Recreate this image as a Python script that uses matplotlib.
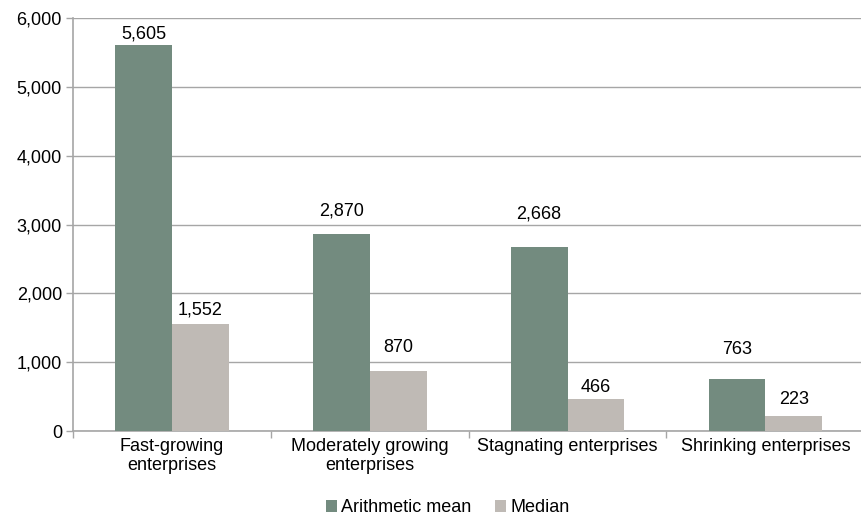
import matplotlib
matplotlib.use("Agg")
import matplotlib.pyplot as plt
import numpy as np

categories = ["Fast-growing\nenterprises", "Moderately growing\nenterprises",
              "Stagnating enterprises", "Shrinking enterprises"]
mean_vals = [5605, 2870, 2668, 763]
median_vals = [1552, 870, 466, 223]
series_names = ["Arithmetic mean", "Median"]
yticks = [0, 1000, 2000, 3000, 4000, 5000, 6000]

# label gaps above bars (pixels), as placed in the original
mean_gap_px = [7, 18, 29, 25]
median_gap_px = [10, 19, 7, 12]

plt.rcParams['font.family'] = ['Liberation Sans', 'DejaVu Sans']
FS = 13

fig = plt.figure(figsize=(8.61, 5.17), dpi=100)
ax = fig.add_axes([0.0848, 0.1663, 0.9190, 0.7987])

x = np.arange(len(categories))
w = 0.287
c_mean = "#738b7f"
c_med = "#bfbab5"
b1 = ax.bar(x - w/2, mean_vals, w, color=c_mean, label=series_names[0], zorder=3)
b2 = ax.bar(x + w/2, median_vals, w, color=c_med, label=series_names[1], zorder=3)

for bars, vals, gaps in ((b1, mean_vals, mean_gap_px), (b2, median_vals, median_gap_px)):
    for b, v, g in zip(bars, vals, gaps):
        ax.annotate(f"{v:,}", (b.get_x() + b.get_width()/2, v),
                    xytext=(0, g * 0.72), textcoords="offset points",
                    ha="center", va="baseline", fontsize=FS, color="#000000")

ax.set_xlim(-0.5, len(categories) - 0.5)
ax.set_ylim(0, 6000)
ax.set_yticks(yticks)
ax.set_yticklabels([f"{t:,}" for t in yticks], fontsize=FS)
ax.yaxis.grid(True, color="#a6a6a6", linewidth=1, zorder=0)
ax.set_axisbelow(True)

ax.set_xticks(x)
ax.set_xticklabels(categories, fontsize=FS, linespacing=1.15)
ax.tick_params(axis="x", length=0, pad=5)
ax.set_xticks(np.arange(-0.5, len(categories)), minor=True)
ax.tick_params(axis="x", which="minor", length=5, color="#a6a6a6", width=1)
ax.tick_params(axis="y", length=5, color="#a6a6a6", width=1, pad=3)

for s in ("top", "right"):
    ax.spines[s].set_visible(False)
for s in ("left", "bottom"):
    ax.spines[s].set_color("#a6a6a6")
    ax.spines[s].set_linewidth(1.2)

leg = fig.legend(handles=[b1, b2], labels=series_names, loc="lower center",
                 bbox_to_anchor=(0.52, -0.03), ncol=2, frameon=False,
                 fontsize=FS, handlelength=0.6, handleheight=0.6,
                 handletextpad=0.25, columnspacing=1.3)

fig.savefig("out.png", dpi=100)
